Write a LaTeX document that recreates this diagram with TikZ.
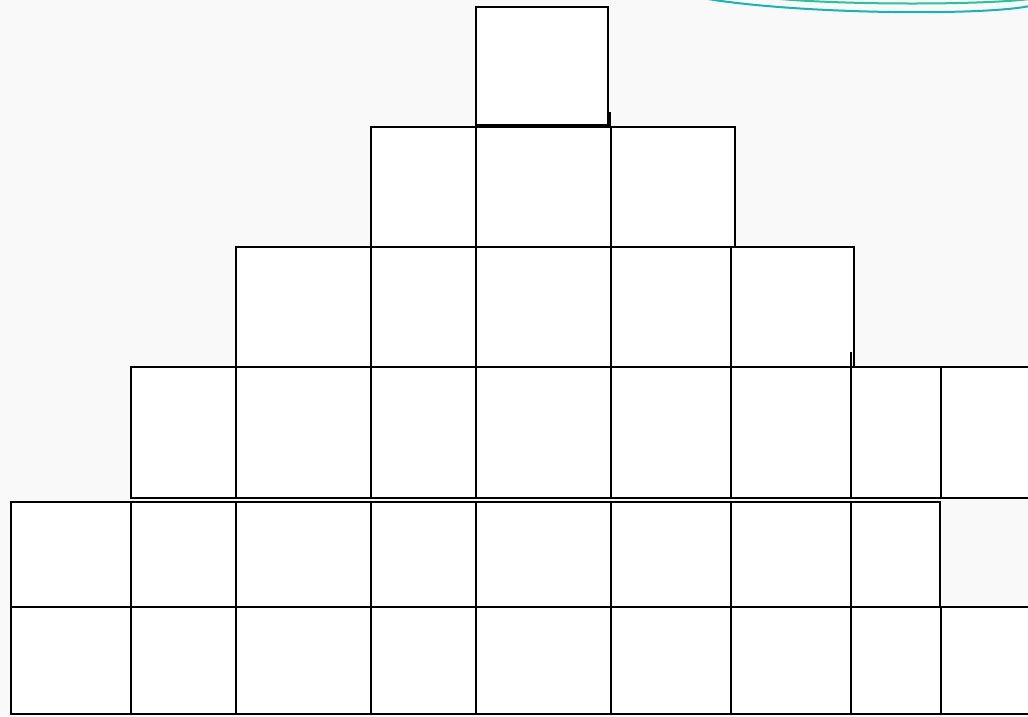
\documentclass[tikz,border=0pt]{standalone}
\definecolor{bgcol}{RGB}{249,249,249}
\definecolor{arcA}{RGB}{20,180,185}
\definecolor{arcB}{RGB}{40,195,150}
\tikzset{
  cell/.style={draw=black, fill=white, line width=1.6pt},
  rule/.style={draw=black, line width=1.6pt},
  arc/.style={line width=2pt}
}
\begin{document}
\begin{tikzpicture}[x=1pt,y=-1pt]
\useasboundingbox (0,0) rectangle (1028,716);
\fill[bgcol] (0,0) rectangle (1028,716);
\clip (0,0) rectangle (1028,716);
% arcs top right
\draw[arc, arcA] (708,-1) .. controls (800,14) and (980,16) .. (1030,6);
\draw[arc, arcB] (780,-1) .. controls (850,5) and (980,5) .. (1030,-1);
% row 0
\draw[cell] (476,7) rectangle (608,125);
\draw[rule] (610,112) -- (610,127);
% row 1
\foreach \a/\b in {371/476,476/611,611/735}
  \draw[cell] (\a,127) rectangle (\b,247);
% row 2
\foreach \a/\b in {236/371,371/476,476/611,611/731,731/854}
  \draw[cell] (\a,247) rectangle (\b,367);
\draw[rule] (851,352) -- (851,367);
% row 3
\foreach \a/\b in {131/236,236/371,371/476,476/611,611/731,731/851,851/941,941/1034}
  \draw[cell] (\a,367) rectangle (\b,498);
% row 4
\foreach \a/\b in {11/131,131/236,236/371,371/476,476/611,611/731,731/851,851/940}
  \draw[cell] (\a,502) rectangle (\b,607);
% row 5
\foreach \a/\b in {11/131,131/236,236/371,371/476,476/611,611/731,731/851,851/941,941/1034}
  \draw[cell] (\a,607) rectangle (\b,714);
\end{tikzpicture}
\end{document}
